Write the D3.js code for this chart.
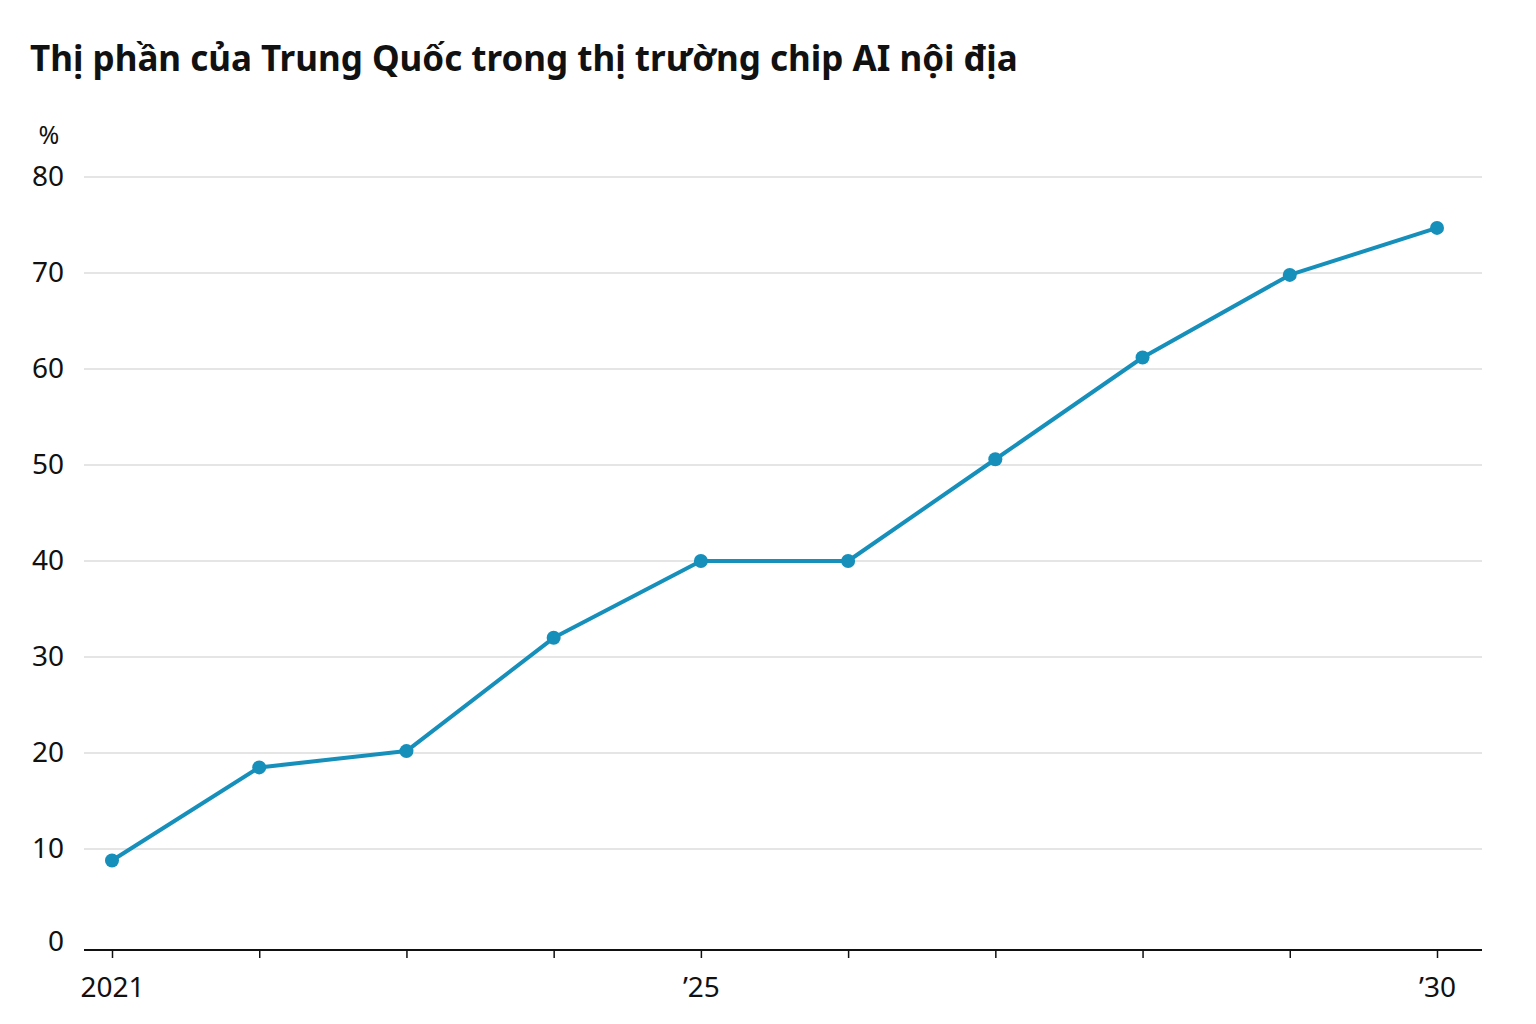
<!DOCTYPE html>
<html><head><meta charset="utf-8">
<script src="https://cdn.jsdelivr.net/npm/d3@7"></script>
<style>
html,body{margin:0;padding:0;background:#fff;}
svg{display:block;}
</style></head>
<body>
<svg id="chart" width="1536" height="1024"></svg>
<script>
const titleText = "Thị phần của Trung Quốc trong thị trường chip AI nội địa";
const unitLabel = "%";
const years = [2021, 2022, 2023, 2024, 2025, 2026, 2027, 2028, 2029, 2030];
const shareValues = [8.8, 18.5, 20.2, 32.0, 40.0, 40.0, 50.6, 61.2, 69.8, 74.7];
const yTicks = [0, 10, 20, 30, 40, 50, 60, 70, 80];
const xTickLabels = {2021: "2021", 2025: "’25", 2030: "’30"};

const svg = d3.select("#chart");
const font = "'Noto Sans', 'Open Sans', sans-serif";
const color = "#168fbb";

const x = d3.scaleLinear().domain([2021, 2030]).range([112, 1437]);
const y = d3.scaleLinear().domain([0, 80]).range([945, 177]);

svg.append("text").attr("x", 30).attr("y", 71)
  .attr("font-family", font).attr("font-weight", 700).attr("font-size", 35)
  .attr("fill", "#111").text(titleText);

// gridlines
svg.append("g").selectAll("line").data(yTicks.filter(d => d > 0)).join("line")
  .attr("x1", 84).attr("x2", 1482)
  .attr("y1", d => y(d)).attr("y2", d => y(d))
  .attr("stroke", "#dcdcdc").attr("stroke-width", 1.5);

// y labels
svg.append("g").selectAll("text").data(yTicks).join("text")
  .attr("x", 64).attr("y", d => y(d) + (d === 0 ? -5 : -2))
  .attr("text-anchor", "end").attr("dominant-baseline", "central")
  .attr("font-family", font).attr("font-size", 28).attr("fill", "#111")
  .text(d => d);

svg.append("text").attr("x", 49).attr("y", 134)
  .attr("text-anchor", "middle").attr("dominant-baseline", "central")
  .attr("font-family", font).attr("font-size", 25).attr("fill", "#111")
  .text(unitLabel);

// x axis
const baseY = y(0) + 5;
const xAxis = d3.axisBottom(x).tickValues(years).tickSize(8).tickPadding(19)
  .tickFormat(d => xTickLabels[d] || "");
const gx = svg.append("g").attr("transform", `translate(0,${baseY})`).call(xAxis);
gx.select(".domain").attr("d", `M84,0H1482`).attr("stroke", "#111").attr("stroke-width", 2);
gx.selectAll(".tick line").attr("stroke", "#111").attr("stroke-width", 1.5);
gx.selectAll(".tick text").attr("font-family", font).attr("font-size", 28).attr("fill", "#111");

// line
const data = years.map((yr, i) => ({yr, v: shareValues[i]}));
svg.append("path").datum(data)
  .attr("d", d3.line().x(d => x(d.yr)).y(d => y(d.v)))
  .attr("fill", "none").attr("stroke", color).attr("stroke-width", 4)
  .attr("stroke-linejoin", "round");
svg.append("g").selectAll("circle").data(data).join("circle")
  .attr("cx", d => x(d.yr)).attr("cy", d => y(d.v)).attr("r", 7)
  .attr("fill", color);
</script>
</body></html>
